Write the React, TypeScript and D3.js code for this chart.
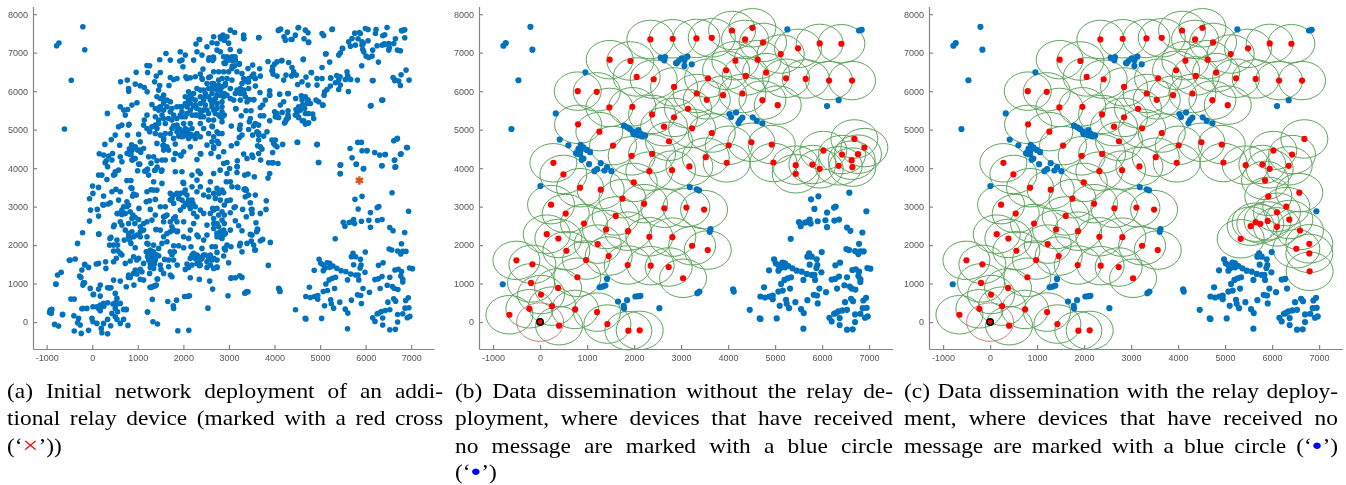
import { useEffect, useRef } from "react";
import * as d3 from "d3";

type Pt = [number, number];

// devices still without a message in both (b) and (c)
const blueShared: Pt[] = [
  [-781,7180],[-731,7250],[-206,7672],[-164,7077],[-461,6284],[-610,5017],[964,6491],[333,5422],[418,4741],[602,4595],
  [864,4603],[815,4500],[765,4388],[850,4353],[921,4543],[992,4474],[1063,4414],[886,4215],[921,4250],[815,4370],[864,4457],
  [1042,4103],[1290,4129],[1155,3922],[1212,3974],[1424,4026],[1368,3939],[1517,3922],[6,3534],
  [1786,5103],[1857,5060],[1914,5017],[1971,4957],[2020,4905],[2077,4862],[2162,4827],[2233,4844],[2091,4991],[1985,4888],[2141,4888],
  [2566,6870],[2658,6887],[2644,6801],[2892,6732],[2943,6784],[2907,6724],[3014,6853],[3134,6896],[3071,6801],[3071,6655],[3226,6698],
  [5261,7603],[6786,7577],[6842,7594],[6353,5767],[6105,5612],[4028,5405],[4063,5327],[4169,5448],[4304,5310],[4255,5250],[4219,5172],
  [4524,5319],[4609,5232],[4730,5163],[3184,3508],[3333,3448],[3382,3422],[3624,2414],[3609,2345],[3390,793],[3347,750],[4106,853],[4120,793],
  [-795,983],[1424,1120],[1268,905],[1332,922],[1389,948],[1658,534],[1850,569],[2027,664],[2091,672],[2134,681],[1779,422],[1786,353],[2538,362],
  [6942,2879],[5992,1819],[5722,1784],[5687,1698],[5779,1698],[5885,1629],[5736,1491],[5899,1483],[5878,1405],[5985,1293],
  [4978,1629],[5013,1526],[5070,1483],[5155,1543],[5212,1526],[5283,1457],[5113,1405],[5212,1422],[5368,1396],[5460,1336],[5566,1310],[5673,1250],
  [5779,1224],[4871,1345],[5070,1336],[5602,1095],[5850,1095],[5836,1224],[5339,1164],[5268,1138],[5198,1095],[5127,991],[5318,871],[4765,905],
  [5070,793],[5162,819],[5942,871],[6084,776],[5822,707],[5892,690],[5687,569],[5907,483],[6204,1103],[6275,1121],[6318,871],
  [4687,664],[4786,638],[4878,664],[4949,690],[4949,595],[5233,578],[5247,474],[5098,422],[5297,362],[5432,517],[5552,336],[5609,233],[4460,319],
  [4673,95],[4690,80],[5034,95],[5602,-172],[6488,517],[6616,603],[6658,543],[6878,560],[6935,629],[6431,302],[6530,319],[6346,276],[6254,216],
  [6155,112],[6204,17],[6374,103],[6374,-78],[6530,-198],[6651,-190],[6701,0],[6701,198],[6814,216],[6864,362],[6949,371],[6913,112],[6970,147],[6289,233],
];

// only panel (b) leaves these without a message
const blueOnlyB: Pt[] = [
  [5921,3267],[5765,3189],[6580,3362],[6289,3000],[6254,2974],[5836,2939],[6105,2845],[5509,2595],[5545,2491],[5637,2586],[5736,2664],[5758,2560],
  [5694,2603],[5907,2620],[6070,2646],[6105,2465],[6261,2638],[6360,2664],[6530,2457],[6601,2371],[6857,2327],[5332,2164],[6786,2034],
  [6516,1897],[6573,1871],[6701,1845],[6771,1767],[6814,1836],[6885,1836],[6382,1543],[6282,1474],[6360,1181],[6530,1164],[6474,957],[6587,922],
  [6630,871],[6708,845],[6644,1353],[6716,1371],[6786,1310],[6772,1198],[6814,1112],[6814,1043],[6963,1405],[7027,1388],
];

const relaysShared: Pt[] = [
  [283,4138],[496,3836],[801,6000],[1205,5982],[1481,6818],[1921,6784],[2346,7344],[2821,7362],[2055,6370],[2417,6310],[2850,6110],[1474,5577],
  [1963,5594],[2382,5396],[2850,5319],[808,5137],[1261,4948],[2637,5077],[2743,4698],[1552,4586],[1949,4319],[2382,4370],[2325,3922],[2807,3948],
  [850,3491],[1290,3439],[1992,3629],[1751,3207],[2211,3077],[2644,2957],[233,3051],[545,2819],[935,2560],[1609,2758],[1403,2405],[1871,2362],
  [2325,2215],[2814,2207],[141,2284],[389,2172],[1226,2026],[559,1853],[1460,1715],[978,1612],[-504,1603],[-164,1500],[1864,1483],[2353,1465],
  [2736,1431],[793,1164],[-192,1017],[382,888],[20,715],[255,414],[-228,345],[744,328],[1212,259],[-653,190],[1432,-52],[404,-95],[1878,-224],[2119,-216],
  [3326,7370],[3652,7387],[4084,7577],[4517,7646],[4361,7344],[4744,7267],[5120,6965],[5488,7112],[5949,7241],[6410,7232],[4155,6793],[4630,6818],
  [3957,6543],[4808,6482],[4375,6396],[3574,6336],[5233,6336],[5651,6318],[6148,6275],[6637,6275],[3333,5939],[3893,5896],[4304,5939],[3546,5775],
  [4730,5767],[5056,5637],[3148,5543],[3234,5034],[3652,4913],[4013,4594],[4496,4672],[4928,4612],[3524,4284],[3971,4138],[3177,4043],[4964,4146],
  [3113,2974],[3489,2922],[3234,1983],[3567,1871],[3042,1138],[5439,4077],[5793,4094],[5949,3982],[6027,4457],[6424,4353],[6686,4758],[6353,4060],
];

const relaysOnlyB: Pt[] = [[5439,3853],[6899,4534],[6764,4362],[6630,4206],[6644,4026]];

const relaysOnlyC: Pt[] = [
  [5850,3681],[5919,3267],[6579,3362],[6302,3000],[6104,2853],[5905,2629],[6366,2664],[5650,2595],[5749,2552],[5544,2491],[6104,2474],[6593,2379],
  [5331,2164],[6792,2034],[6515,1905],[6792,1784],[6799,1319],
];

// the rest of the network, only visible in panel (a)
const otherDevicesRight: Pt[] = [
  [4091,7586],[4135,7612],[4282,7534],[4530,7655],[4677,7586],[4735,7517],[4457,7456],[4384,7344],[4208,7413],[4238,7326],[4648,7361],[4750,7274],
  [5043,7500],[5079,7448],[5270,7612],[5760,7508],[5863,7525],[5994,7629],[6053,7604],[6229,7604],[6214,7500],[6470,7655],[6375,7439],[6419,7465],
  [6800,7569],[6858,7595],[6858,7387],[6653,7361],[5628,7283],[5702,7370],[5833,7361],[5885,7500],[5921,7283],[6053,7309],[5665,7170],[5775,7196],
  [5921,7196],[5936,7084],[5958,7023],[6009,6911],[6068,6876],[6141,6911],[6155,7067],[6251,7179],[6360,7196],[6507,7240],[6617,7240],[6507,7067],
  [6521,7136],[6419,7214],[6697,7067],[6763,7049],[5497,7110],[5445,6997],[5409,6937],[5131,6971],[5211,6755],[5914,6660],[6280,6755],[4633,6833],
  [3857,6772],[4164,6798],[4311,6746],[4055,6763],[4003,6703],[3959,6634],[3945,6530],[3967,6443],[4055,6391],[4252,6417],[4201,6287],[4384,6616],
  [4421,6504],[4479,6417],[4809,6486],[5043,6616],[4691,6365],[4604,6244],[4508,6175],[4735,6157],[4933,6330],[4933,6157],[5043,6330],[5233,6348],
  [5365,6408],[5438,6374],[5592,6503],[5606,6399],[5555,6304],[5672,6304],[5819,6287],[6163,6278],[6602,6356],[6653,6287],[6726,6261],[6763,6149],
  [6778,6426],[6887,6547],[6953,6287],[5409,6287],[5445,6157],[5336,6218],[5226,6131],[5153,6045],[5409,6045],[5101,5984],[5087,5897],[5621,5993],
  [6375,5768],[6119,5629],[3894,6010],[3894,5897],[4113,5923],[4289,5941],[4465,5811],[4589,5880],[4677,5854],[4735,5768],[4604,5768],[4713,5681],
  [4787,5681],[4911,5768],[4970,5724],[5065,5638],[4618,5638],[4530,5594],[4472,5525],[4494,5421],[4567,5508],[4662,5551],[4677,5421],[4457,5378],
  [4530,5317],[4640,5231],[4677,5144],[4750,5179],[4750,5421],[4838,5404],[4860,5291],[4201,5724],[4128,5638],[4055,5421],[4003,5464],[4018,5334],
  [4091,5317],[4296,5490],[4296,5378],[4238,5205],[4274,5291],[3894,5231],[5658,4512],[5826,4668],[5907,4668],[5702,4269],[5797,4105],[5958,3992],
  [5921,4451],[6031,4451],[6199,4408],[6309,4339],[6434,4356],[6617,4711],[6697,4772],[6917,4538],[6778,4373],[6639,4209],[6661,4036],[6360,4061],
  [4508,4668],[4940,4616],[4970,4148],[5453,4087],[5445,3862],
];

const otherDevicesMiddle: Pt[] = [
  [3674,6582],[3520,6677],[3418,6590],[3227,6720],[3125,6660],[3689,6391],[3542,6443],[3579,6330],[3506,6391],[3374,6287],[3286,6200],[3432,6244],
  [3579,6131],[3681,5967],[3432,6071],[3323,6027],[3176,6027],[3249,5941],[3359,5854],[3447,5785],[3542,5785],[3396,5724],[3249,5768],[3103,5768],
  [3798,5768],[3740,5638],[3689,5577],[3374,5490],[3484,5490],[3154,5542],[3271,5360],[3469,5291],[3689,5360],[3762,5360],[3447,5205],[3579,5161],
  [3652,5118],[3542,5092],[3432,5005],[3249,5118],[3235,5005],[3052,5092],[3615,4945],[3520,4858],[3652,4858],[3835,4945],[3762,4832],[3286,4858],
  [3227,4798],[3176,4642],[3052,4581],[3652,4728],[3689,4555],[3630,4581],[3945,4728],[4018,4728],[3981,4642],[4055,4555],[4179,4616],[3959,4408],
  [3725,4495],[3652,4382],[3506,4339],[3396,4252],[3323,4365],[3872,4140],[3945,4140],[4077,4122],[3696,4209],[3184,4192],[3184,4036],[2957,4148],
  [3176,3888],[3015,3992],[2957,3862],[3345,3819],[3418,3845],[3557,3776],[3894,3862],[3857,3741],[2942,3646],[3030,3646],[3198,3498],[3359,3464],
  [3066,3516],[3359,3429],[3432,3299],[3579,3299],[3359,3256],[3469,3100],[3820,3152],[3813,2927],[3506,2927],[3301,2927],[3140,2996],[3030,3169],
  [2957,3152],[3030,2840],[3506,2823],[3689,2823],[3381,2736],[3140,2633],[3213,2503],[3593,2581],[3630,2407],[3030,2390],[3286,2373],[3469,2278],
  [3506,2260],[2920,2304],[3689,2113],[3740,2148],[3491,2104],[3249,2044],[3396,2044],[3542,2000],[3579,1871],[3908,2070],[3044,1957],[2957,2000],
  [3286,1827],[2920,1871],[2993,1541],[3864,1472],[3235,1204],[3140,1152],[3052,1152],[3286,1160],[2979,684],[3359,762],[3418,788],[4091,875],[4113,805],
  [3030,7586],[2957,7413],[3125,7526],[3323,7456],[3323,7370],[3659,7396],[2993,7248],[3030,7084],[3235,7040],[2957,6893],[3066,6893],[3140,6807],[2993,6807],
  [2920,6720],[3066,6590],[2993,6503],[3176,6503],[3286,6460],[2957,6330],[3066,6287],[3323,6330],[3396,6244],[3432,6330],[2920,6157],[3030,6071],[3140,5941],
  [3249,6071],[2957,5897],[3030,5811],
];

const otherDevicesLowerLeft: Pt[] = [
  [-922,312],[-886,329],[-937,251],[-900,225],[-651,199],[-827,-61],[-739,-104],[-403,165],[-395,-234],[-300,95],[-322,-17],[-264,-78],[-242,-294],
  [-81,-216],[-205,355],[-117,355],[15,398],[102,398],[176,442],[139,355],[212,416],[249,485],[337,502],[176,294],[-7,95],[15,9],[102,-35],[249,-35],
  [337,69],[198,-165],[212,-277],[337,-303],[432,225],[505,502],[542,615],[505,745],[454,468],[542,468],[615,485],[505,355],[556,268],[688,329],[747,329],
  [505,139],[688,69],[615,-35],[542,69],[783,-87],[-468,597],[-395,597],[-44,875],[29,719],[176,675],[176,961],[139,857],[337,892],[410,892],[468,1091],
  [615,1065],[747,918],[915,961],[-798,987],[-761,1221],[-681,1290],[-278,1195],[-249,1160],[-205,961],[-168,1022],[-227,1351],[-168,1481],[-81,1420],
  [88,1507],[139,1524],[293,1568],[300,1394],[468,1568],[-483,1611],[-373,1637],[527,1654],[615,1784],[-322,2044],[-212,2321],[146,2286],[-59,2624],
  [-37,2910],[110,2927],[139,2754],[-59,3204],[15,3343],[139,3499],[249,3273],[249,3040],[344,3066],[395,3100],[432,3386],[520,3447],[615,3386],[578,3169],
  [761,3126],[798,3040],[688,2996],[578,2823],[651,2797],[725,2823],[871,3473],[908,3325],[966,3299],[886,3273],[1025,2953],[893,2780],[944,2719],[1018,2667],
  [1186,3126],[1259,3152],[1201,3386],[1347,3429],[1420,3429],[1384,3187],[1274,2927],[1493,2996],[1603,2996],[1640,2780],[1566,2736],[1566,2606],[1384,2780],
  [1201,2606],[1127,2563],[1054,2477],[1127,2390],[1054,2347],[1398,2407],[1201,2217],[615,2606],[651,2520],[468,2477],[483,2520],[725,2390],[798,2563],
  [871,2347],[798,2304],[981,2260],[820,2130],[542,2130],[703,2130],[410,2200],[381,2000],[468,2000],[556,2000],[849,2044],[944,1931],[468,1845],[651,1741],
  [725,1524],[834,1585],[908,1697],[1018,1654],[1127,1524],[1237,1767],[1201,2044],[1347,2000],[1457,1914],[1420,1741],[1566,2217],[1640,2087],[1530,2044],
  [1786,1983],[1896,1983],[2006,1931],[2167,1957],[2408,1914],[2628,1957],[2701,1957],[2738,1810],
  [1201,1827],[1274,1741],[1347,1827],[1259,1611],[1310,1654],[1384,1611],[1237,1611],[1310,1524],[1362,1507],[1274,1420],[1347,1394],[1259,1264],[1493,1481],
  [1508,1368],[1566,1264],[1588,1628],[1676,1611],[1676,1438],[1786,1611],[1713,1827],[1801,1827],[1749,1741],[1713,1221],[1749,1178],[944,1351],[1054,1368],
  [1091,1308],[981,1247],[908,1264],[798,1221],[834,1160],[1127,1091],[1054,1108],[1435,1117],[1288,901],[1362,935],[1406,961],[1318,589],[1215,260],[1332,9],
  [2642,857],[2577,1065],[2350,1108],[2152,1152],[2042,1368],[2115,1420],[2189,1741],[2262,1654],[2225,1784],[2335,1697],[2408,1654],[2481,1741],[2555,1654],
  [2628,1611],[2738,1611],[2299,1524],[2189,1481],[2079,1507],[2372,1481],[2518,1420],[2591,1481],[2665,1394],[2738,1420],[2884,1715],[2899,1914],
  [1713,3343],[1786,3299],[1859,3343],[1896,3213],[1713,3169],[1786,3083],[2006,3360],[2079,3299],[2042,3083],[2115,3040],[2189,3083],[2262,2996],[2372,2910],
  [2445,2823],[2591,2823],[2665,2910],[2738,2953],[2848,2866],[2899,2780],[2555,3256],[2665,3343],[2774,3343],[2884,3360],[2298,3386],[2189,3516],[2372,3516],
  [2591,3646],[2738,3473],[1859,2606],[2006,2606],[2225,2563],[1749,2477],[1713,2347],[1859,2347],[2006,2217],[2152,2390],[2298,2260],[2115,2174],[2518,2260],
  [2738,2563],[2738,2304],[2848,2174],[2665,2433],[2774,2477],[2884,2390],[2518,2520],[2445,2130],
  [2006,2996],[2079,3083],[2115,3169],[2152,2953],[2225,2823],[2298,2736],[1969,3169],[1932,2910],[1823,2736],[2665,2693],[2774,2780],[2848,2650],[2899,2563],
  [2665,2563],[2738,2217],[2811,2347],[2884,2260],[2152,1654],[2298,1741],[2372,1611],[2445,1741],[2518,1568],[2591,1741],[2665,1654],[1274,1870],[1215,1697],
  [1332,1611],[1274,1524],[1384,1741],[1186,1827],[1640,2303],[1493,2390],[1310,2650],[1786,2390],[1713,2606],[1786,2693],[1054,2217],[908,2217],[798,2217],
  [871,2693],[651,2910],[761,2996],[834,2866],[2042,3429],[1932,3343],[2189,3169],[2445,3299],[2555,3429],[2701,3213],[2811,3169],[2899,3040],[2848,3429],
];

const otherDevicesUpperLeft: Pt[] = [
  [622,6244],[769,6287],[798,6071],[944,6183],[1054,6140],[1142,6097],[1215,6486],[1201,6668],[1259,6660],[1405,6391],[1493,6486],[1618,6980],[1713,6807],
  [1369,6244],[1479,6149],[1457,6027],[1684,6149],[1713,6356],[1786,6304],[1859,6330],[1932,7023],[1969,6807],[2042,6937],[1991,6634],[2079,6330],[2152,6348],
  [2225,6807],[2277,7223],[2357,7344],[2298,7023],[2408,6937],[2430,6573],[2372,6443],[2262,6374],[2408,6330],[2555,6356],[2518,7153],[2665,7413],[2811,7413],
  [2628,7257],[2738,7240],[2869,7456],[2899,7326],[2555,6807],[2665,6850],[2738,7067],[2811,7023],[2884,6893],[2665,6503],[2774,6503],[2884,6503],[2591,6374],
  [2042,5854],[2115,5984],[2189,5811],[2262,5768],[2372,5854],[2481,5854],[2555,6071],[2665,6200],[2774,6287],[2848,6330],[2628,5941],[2738,6027],[2848,6114],
  [2921,6200],[2591,5768],[2701,5811],[2811,5897],[2899,5941],[2481,5638],[2628,5594],[2738,5681],[2848,5724],[2445,5508],[2298,5551],[2372,5334],[2701,5421],
  [2848,5464],[2152,5681],[2225,5594],[2079,5594],[1969,5464],[1859,5594],[1932,5594],[1749,5551],[2665,5508],[2555,5421],[2445,5334],[2262,5378],[2811,5334],[2899,5378],
  [1566,5897],[1493,5811],[1420,5854],[1640,5768],[1310,5655],[1384,5551],[1457,5508],[1566,5681],[1713,5464],[1566,5508],[1530,5378],[1457,5248],[1603,5161],
  [1676,5291],[1786,5378],[1859,5291],[1969,5334],[2042,5334],[2152,5161],[2042,5031],[1969,4945],[2079,4858],[2189,4858],[2262,4772],[2005,4832],[1859,4945],
  [1749,5031],[1896,4832],[1786,4772],[1713,4901],[1603,4901],[1566,4772],[1457,5161],[1384,5118],[1201,5378],[1142,5248],[1127,5118],[1201,5031],[1310,5075],
  [1384,4901],[1420,4642],[1566,4598],[1640,4555],[1566,4468],[1676,4468],[1823,4625],[1823,4382],[1932,4339],[2006,4425],[2152,4555],[2115,4772],[2372,4815],
  [2372,4382],[2298,4226],[2628,5092],[2445,5031],[2555,4901],[2738,4945],[2848,4901],[2628,4685],[2518,4598],[2665,4512],[2606,4382],[2774,4295],[2884,4122],[2884,4425],
  [615,5594],[688,5508],[776,5525],[871,5638],[981,5698],[725,5378],[578,5075],[651,5118],[798,5118],[776,4858],[1018,4876],[505,4858],[278,4616],[154,4373],
  [249,4339],[359,4313],[446,4382],[307,4192],[337,4036],[432,4209],[615,4295],[651,4166],[798,4382],[871,4468],[944,4555],[1054,4685],[1054,4468],[871,4209],
  [944,4252],[1127,4512],[1237,4295],[1347,4295],[1018,4105],[1420,4192],[1530,4209],[1603,4209],[1201,3949],[996,3932],[1237,3819],[1384,3949],[1530,3949],
  [1823,3906],[1969,3906],[1786,4226],[139,3819],[212,3819],[322,3706],[468,3819],[505,3906],[578,3949],[761,3680],[849,3680],[1347,3646],[1530,3603],[2006,3603],
  [2189,3819],[2372,3862],[2665,3862],[2298,3689],
  [2372,6027],[2225,5941],[2298,6071],[2445,6027],[2518,6200],[2628,6200],[2701,6114],[2445,5768],[2372,5681],[2262,5638],[2665,5768],[2774,6157],[2811,6027],
  [2884,5854],[2848,5594],[2738,5551],[2774,5378],[2591,6071],[2481,5941],[2115,5768],[2152,5897],[2042,5681],[2665,6071],[2555,5854],[2738,5897],[2628,5681],
  [2518,5508],[2372,5508],[2298,5378],[2152,5508],[2189,5378],[2079,5421],[1932,5378],[2372,5161],[2665,5248],[2848,5205],[2555,5248],[2006,5161],[1859,5118],
  [1749,5248],[1969,4815],[2189,5031],[2298,4901],[2665,4815],[2774,4901],[2774,4642],[2665,4555],[1566,4728],[1493,4858],[1420,5031],[1384,5334],[1566,5291],
  [1493,5594],[1566,5768],[1640,5594],[1713,5724],
];

const extraRelay: Pt[] = [[5863, 3680]];
const sourceDevice: Pt[] = [[0, 0]];

const xTickValues = [-1000, 0, 1000, 2000, 3000, 4000, 5000, 6000, 7000];
const yTickValues = [0, 1000, 2000, 3000, 4000, 5000, 6000, 7000, 8000];
const xDomain: Pt = [-1300, 7500];
const yDomain: Pt = [-700, 8200];
const relayRange = 500;

const captionA = ["(a) Initial network deployment of an addi-", "tional relay device (marked with a red cross"];
const captionB = ["(b) Data dissemination without the relay de-", "ployment, where devices that have received", "no message are marked with a blue circle"];
const captionC = ["(c) Data dissemination with the relay deploy-", "ment, where devices that have received no"];

const BLUE = "#0072bd";
const LINE_Y = [398, 425, 452.5, 479];
const TEXT_STRETCH = 1.17; // the caption type is wider than it is tall

const drawPanel = (
  svg: d3.Selection<SVGSVGElement, unknown, null, undefined>,
  left: number,
  right: number,
  blue: Pt[],
  relays: Pt[],
  dotRadius: number
) => {
  const x = d3.scaleLinear().domain(xDomain).range([left, right]);
  const y = d3.scaleLinear().domain(yDomain).range([349, 6.5]);
  const g = svg.append("g");

  // relay coverage, drawn under the dots
  const drawRange = (points: Pt[], color: string) =>
    g.append("g").selectAll("ellipse").data(points).join("ellipse")
      .attr("cx", (d) => x(d[0])).attr("cy", (d) => y(d[1]))
      .attr("rx", x(relayRange) - x(0)).attr("ry", y(0) - y(relayRange))
      .attr("fill", "none").attr("stroke", color).attr("stroke-width", 1);
  if (relays.length) {
    drawRange(relays, "#5da45d");
    drawRange(sourceDevice, "#c98080");
  }

  g.append("g").selectAll("circle").data(blue).join("circle")
    .attr("cx", (d) => x(d[0])).attr("cy", (d) => y(d[1])).attr("r", dotRadius).attr("fill", BLUE);

  if (relays.length) {
    g.append("g").selectAll("circle").data(relays).join("circle")
      .attr("cx", (d) => x(d[0])).attr("cy", (d) => y(d[1])).attr("r", 3.1).attr("fill", "#ff0000");
    g.append("g").selectAll("circle").data(sourceDevice).join("circle")
      .attr("cx", (d) => x(d[0])).attr("cy", (d) => y(d[1])).attr("r", 3.2)
      .attr("fill", "#ff0000").attr("stroke", "#000").attr("stroke-width", 1.5);
  }

  const xAxis = d3.axisBottom(x).tickValues(xTickValues).tickFormat((d) => String(d)).tickSize(-4).tickSizeOuter(0).tickPadding(6);
  const yAxis = d3.axisLeft(y).tickValues(yTickValues).tickFormat((d) => String(d)).tickSize(-4).tickSizeOuter(0).tickPadding(5);
  for (const [axis, tr] of [[xAxis, `translate(0,349)`], [yAxis, `translate(${left},0)`]] as const) {
    const a = g.append("g").attr("transform", tr).call(axis as any);
    a.attr("font-family", "'Liberation Sans', sans-serif").attr("font-size", 9);
    a.selectAll("path,line").attr("stroke", "#858585").attr("stroke-width", 1.2);
    a.selectAll("text").attr("fill", "#555");
  }
  return { x, y, g };
};

const captionText = (
  svg: d3.Selection<SVGSVGElement, unknown, null, undefined>,
  left: number,
  top: number
) => svg.append("text").attr("transform", `translate(${left},${top}) scale(${TEXT_STRETCH},1)`).attr("class", "cap");

const justify = (t: d3.Selection<SVGTextElement, unknown, null, undefined>, gaps: number, width: number) => {
  const natural = (t.node() as SVGTextElement).getComputedTextLength();
  t.attr("word-spacing", (width / TEXT_STRETCH - natural) / gaps);
};

const drawCaption = (
  svg: d3.Selection<SVGSVGElement, unknown, null, undefined>,
  lines: string[],
  left: number,
  right: number
) => {
  lines.forEach((line, i) => {
    const t = captionText(svg, left, LINE_Y[i]).text(line);
    justify(t as any, line.split(" ").length - 1, right - left);
  });
};

const drawMarkerLine = (
  svg: d3.Selection<SVGSVGElement, unknown, null, undefined>,
  left: number,
  top: number,
  before: string,
  marker: string,
  color: string,
  after: string,
  markerSize: number,
  lift: number
) => {
  const t = captionText(svg, left, top);
  t.append("tspan").text(before);
  t.append("tspan").attr("fill", color).attr("font-size", markerSize).attr("dy", -lift).text(marker);
  t.append("tspan").attr("dy", lift).text(after);
  return t;
};

export default function App() {
  const ref = useRef<SVGSVGElement>(null);

  useEffect(() => {
    const svg = d3.select(ref.current as SVGSVGElement);
    svg.selectAll("*").remove();
    svg.attr("font-family", "'Liberation Serif', serif");
    svg.append("style").text(".cap{font-size:20px;fill:#000}");

    const everyDevice = [
      ...blueShared, ...blueOnlyB, ...relaysShared, ...relaysOnlyB,
      ...otherDevicesRight, ...otherDevicesMiddle, ...otherDevicesLowerLeft, ...otherDevicesUpperLeft,
    ];

    const a = drawPanel(svg, 33, 434, everyDevice, [], 2.8);
    const star = d3.symbol(d3.symbolAsterisk, 50);
    a.g.append("g").selectAll("path").data(extraRelay).join("path")
      .attr("transform", (d) => `translate(${a.x(d[0])},${a.y(d[1])})`)
      .attr("d", star()).attr("fill", "none").attr("stroke", "#d95319").attr("stroke-width", 2.4);

    drawPanel(svg, 479, 892.6, [...blueShared, ...blueOnlyB], [...relaysShared, ...relaysOnlyB], 3.1);
    drawPanel(svg, 929, 1342.6, blueShared, [...relaysShared, ...relaysOnlyC], 3.1);

    drawCaption(svg, captionA, 7, 443);
    drawMarkerLine(svg, 7, LINE_Y[2], "(‘", "×", "#ff0000", "’))", 24, 0);

    drawCaption(svg, captionB, 455, 893);
    drawMarkerLine(svg, 455, LINE_Y[3], "(‘", "●", "#0000ff", "’)", 15, 3);

    drawCaption(svg, captionC, 904, 1338);
    const last = drawMarkerLine(svg, 904, LINE_Y[2], "message are marked with a blue circle (‘", "●", "#0000ff", "’)", 15, 3);
    justify(last as any, 7, 1338 - 904);
  }, []);

  return (
    <svg
      ref={ref}
      width={1346}
      height={485}
      style={{ position: "absolute", left: 0, top: 0, background: "#fff", display: "block", filter: "blur(0.35px)" }}
    />
  );
}
